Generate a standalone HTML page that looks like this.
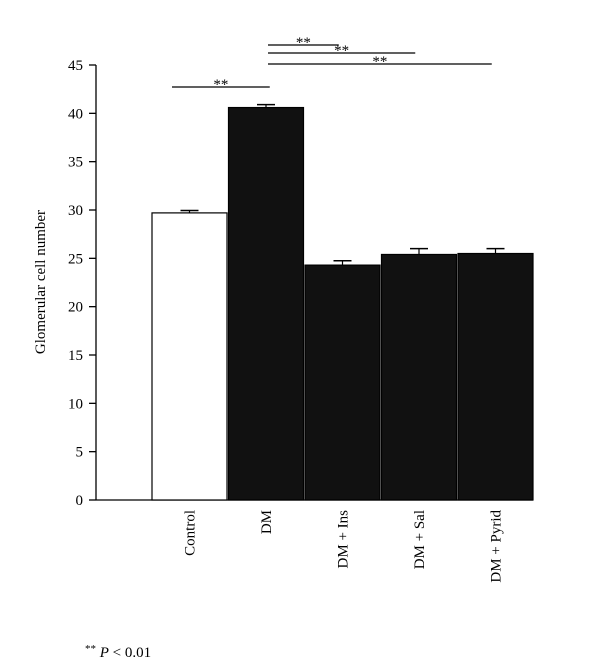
<!DOCTYPE html>
<html><head><meta charset="utf-8"><style>
body{margin:0;background:#fff;}
svg{display:block;font-family:"Liberation Serif",serif;}
</style></head><body>
<svg id="chart" width="605" height="660" viewBox="0 0 605 660" xmlns="http://www.w3.org/2000/svg"></svg>
<script>
const categories=["Control","DM","DM + Ins","DM + Sal","DM + Pyrid"];
const values=[29.7,40.6,24.3,25.4,25.5];
const errors=[0.25,0.3,0.45,0.6,0.5];
const fills=["#fff","#111","#111","#111","#111"];
const yTicks=[0,5,10,15,20,25,30,35,40,45];
const sigPairs=[[0,1],[1,2],[1,3],[1,4]];
const sigLabels=["**","**","**","**"];

const svg=document.getElementById('chart');
const NS='http://www.w3.org/2000/svg';
const x0=96,y0=500,yTop=65,yMax=45;
const barStart=152,barW=75,gap=1.5;
function y(v){return y0-(v/yMax)*(y0-yTop);}
function bx(i){return barStart+i*(barW+gap);}
function el(t,a,txt){const e=document.createElementNS(NS,t);for(const k in a)e.setAttribute(k,a[k]);if(txt!==undefined)e.textContent=txt;svg.appendChild(e);return e;}

let ax=el('line',{x1:x0,y1:yTop,x2:x0,y2:y0,stroke:'#000','stroke-width':1.3});


let bl=el('line',{x1:x0,y1:y0,x2:533,y2:y0,stroke:'#000','stroke-width':1.3});


yTicks.forEach(t=>{
  let tk=el('line',{x1:x0-7,y1:y(t),x2:x0,y2:y(t),stroke:'#000','stroke-width':1.3});
  
  
  let tl=el('text',{x:x0-13,y:y(t)+5,'text-anchor':'end','font-size':15},t);
  
  
});
let yt=el('text',{x:0,y:0,'text-anchor':'middle','font-size':15,transform:'translate(45,282) rotate(-90)'},'Glomerular cell number');



values.forEach((v,i)=>{
  const x=bx(i);
  let r=el('rect',{x:x,y:y(v),width:barW,height:y0-y(v),fill:fills[i],stroke:'#000','stroke-width':1.2});
  
  
  const cx=x+barW/2;
  let e1=el('line',{x1:cx,y1:y(v),x2:cx,y2:y(v+errors[i]),stroke:'#000','stroke-width':1.2});
  
  
  let e2=el('line',{x1:cx-9,y1:y(v+errors[i]),x2:cx+9,y2:y(v+errors[i]),stroke:'#000','stroke-width':1.5});
  
  
  let lb=el('text',{x:0,y:0,'text-anchor':'end','font-size':15,transform:'translate('+(cx+5)+',510) rotate(-90)'},categories[i]);
  
  
});

const sigY=[87,45,53,64];
sigPairs.forEach((p,k)=>{
  const xa=p[0]===0?172:268;
  const xb=bx(p[1])+(p[0]===0?barW*0.55:barW*0.45);
  let l=el('line',{x1:xa,y1:sigY[k],x2:xb,y2:sigY[k],stroke:'#000','stroke-width':1.2});
  
  
  let s=el('text',{x:(xa+xb)/2+ (p[0]===0?0:0),y:sigY[k]+2,'text-anchor':'middle','font-size':15},sigLabels[k]);
  
  
});

let n=el('text',{x:85,y:657,'font-size':15},'');


const ts1=document.createElementNS(NS,'tspan');ts1.setAttribute('font-size','11');ts1.setAttribute('dy','-5');ts1.textContent='**';n.appendChild(ts1);
const ts2=document.createElementNS(NS,'tspan');ts2.setAttribute('dy','5');ts2.setAttribute('font-style','italic');ts2.textContent=' P';n.appendChild(ts2);
const ts3=document.createElementNS(NS,'tspan');ts3.textContent=' < 0.01';n.appendChild(ts3);
</script>
</body></html>
